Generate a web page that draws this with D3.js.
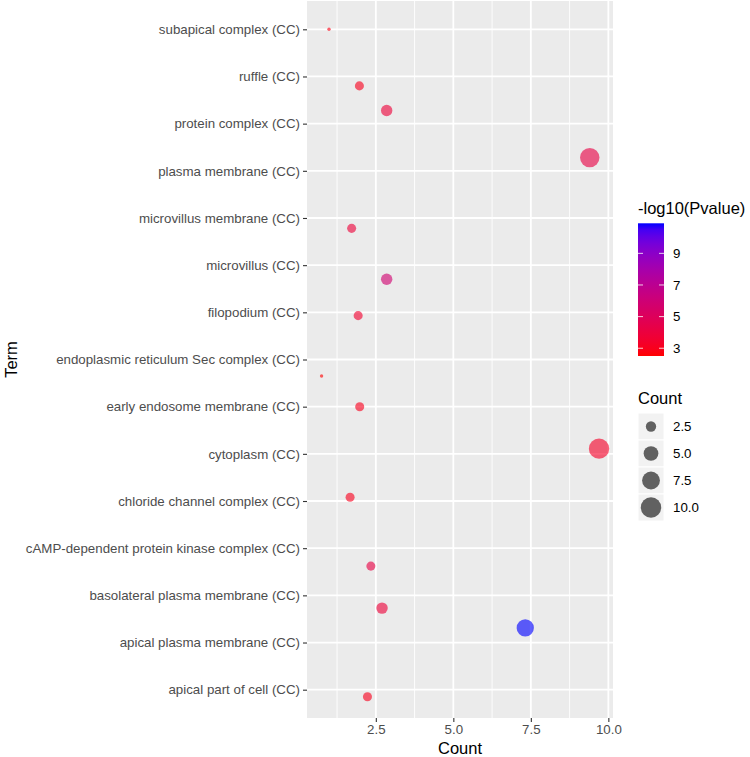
<!DOCTYPE html>
<html>
<head>
<meta charset="utf-8">
<script src="https://cdn.jsdelivr.net/npm/d3@7"></script>
<style>
  body { margin: 0; background: #fff; }
  svg { font-family: "Liberation Sans", Arial, sans-serif; display: block; }
</style>
</head>
<body>
<div id="chart"></div>
<script>
// GO terms, bottom to top (factor order)
const terms = [
    "apical part of cell (CC)",
    "apical plasma membrane (CC)",
    "basolateral plasma membrane (CC)",
    "cAMP-dependent protein kinase complex (CC)",
    "chloride channel complex (CC)",
    "cytoplasm (CC)",
    "early endosome membrane (CC)",
    "endoplasmic reticulum Sec complex (CC)",
    "filopodium (CC)",
    "microvillus (CC)",
    "microvillus membrane (CC)",
    "plasma membrane (CC)",
    "protein complex (CC)",
    "ruffle (CC)",
    "subapical complex (CC)"
];
const counts = [2, 7, 3, 2, 2, 10, 2, 1, 2, 3, 2, 9, 3, 2, 1];
// jittered positions as drawn
const countJitter = [2.23, 7.32, 2.7, 2.34, 1.67, 9.7, 1.98, 0.75, 1.93, 2.85, 1.72, 9.4, 2.85, 1.97, 0.99];
const termJitter = [-0.15, 0.31, -0.27, -0.38, 0.08, 0.11, 0.0, -0.35, -0.07, -0.3, -0.22, 0.28, 0.28, -0.2, 0.0];
const logP = [3.0, 10.9, 3.8, 4.2, 3.0, 3.3, 3.0, 2.51, 3.5, 5.8, 3.8, 4.2, 3.8, 3.0, 2.8];

const xTicks = [2.5, 5, 7.5, 10];
const xMinor = [1.25, 3.75, 6.25, 8.75];
const colorTicks = [3, 5, 7, 9];
const sizeTicks = [2.5, 5, 7.5, 10];

const data = terms.map((t, i) => ({
    term: t, idx: i, count: counts[i],
    cx: countJitter[i], cy: i + termJitter[i], p: logP[i]
}));

const W = 750, H = 757;
const panel = { left: 307, right: 613, top: 1, bottom: 718 };

const svg = d3.select("#chart").append("svg")
    .attr("width", W).attr("height", H);

const x = d3.scaleLinear().domain([0.28, 10.15]).range([panel.left, panel.right]);
const y = d3.scaleLinear().domain([-0.6, terms.length - 0.4]).range([panel.bottom, panel.top]);

const color = d3.scaleLinear()
    .domain(d3.extent(logP))
    .range(["red", "blue"])
    .interpolate(d3.interpolateLab);

const sizeNorm = d3.scaleLinear().domain(d3.extent(counts)).range([0, 1]);
const radius = d3.scaleLinear().domain([0, 1]).range([1.7, 10.2]);
const r = c => radius(Math.sqrt(sizeNorm(c)));

// panel background
svg.append("rect")
    .attr("x", panel.left).attr("y", panel.top)
    .attr("width", panel.right - panel.left).attr("height", panel.bottom - panel.top)
    .attr("fill", "#ebebeb");

const grid = svg.append("g");
grid.selectAll(".xminor").data(xMinor).enter().append("line")
    .attr("x1", d => x(d)).attr("x2", d => x(d))
    .attr("y1", panel.top).attr("y2", panel.bottom)
    .attr("stroke", "#fff").attr("stroke-width", 0.9);
grid.selectAll(".xmajor").data(xTicks).enter().append("line")
    .attr("x1", d => x(d)).attr("x2", d => x(d))
    .attr("y1", panel.top).attr("y2", panel.bottom)
    .attr("stroke", "#fff").attr("stroke-width", 1.8);
grid.selectAll(".ymajor").data(d3.range(terms.length)).enter().append("line")
    .attr("x1", panel.left).attr("x2", panel.right)
    .attr("y1", d => y(d)).attr("y2", d => y(d))
    .attr("stroke", "#fff").attr("stroke-width", 1.8);

// points
svg.append("g").selectAll("circle")
    .data(data).enter().append("circle")
    .attr("cx", d => x(d.cx))
    .attr("cy", d => y(d.cy))
    .attr("r", d => r(d.count))
    .attr("fill", d => color(d.p))
    .attr("fill-opacity", 0.62);

// axes
const yAxis = svg.append("g")
    .attr("transform", `translate(${panel.left},0)`)
    .call(d3.axisLeft(y).tickValues(d3.range(terms.length)).tickFormat(i => terms[i]).tickSize(4).tickPadding(3));
const xAxis = svg.append("g")
    .attr("transform", `translate(0,${panel.bottom})`)
    .call(d3.axisBottom(x).tickValues(xTicks).tickFormat(d3.format(".1f")).tickSize(4).tickPadding(3));
[xAxis, yAxis].forEach(g => {
    g.select(".domain").remove();
    g.selectAll(".tick line").attr("stroke", "#333").attr("stroke-width", 1.1);
    g.selectAll(".tick text").attr("fill", "#4d4d4d").style("font-size", "13.3px");
});

svg.append("text")
    .attr("x", (panel.left + panel.right) / 2).attr("y", 754)
    .attr("text-anchor", "middle").style("font-size", "16.5px").attr("fill", "#000")
    .text("Count");
svg.append("text")
    .attr("transform", `translate(17,${(panel.top + panel.bottom) / 2}) rotate(-90)`)
    .attr("text-anchor", "middle").style("font-size", "16.5px").attr("fill", "#000")
    .text("Term");

// colour legend
const lg = svg.append("g").attr("transform", "translate(638,0)");
lg.append("text").attr("x", 0).attr("y", 214)
    .style("font-size", "16.5px").text("-log10(Pvalue)");

const barTop = 223.3, barBottom = 356, barW = 26;
const cy = d3.scaleLinear().domain(d3.extent(logP)).range([barBottom, barTop]);
const grad = svg.append("defs").append("linearGradient")
    .attr("id", "cbar").attr("x1", 0).attr("y1", 1).attr("x2", 0).attr("y2", 0);
d3.range(0, 1.0001, 0.05).forEach(t => {
    const v = color.domain()[0] + t * (color.domain()[1] - color.domain()[0]);
    grad.append("stop").attr("offset", t).attr("stop-color", color(v));
});
lg.append("rect").attr("x", 0).attr("y", barTop)
    .attr("width", barW).attr("height", barBottom - barTop)
    .attr("fill", "url(#cbar)");
colorTicks.forEach(v => {
    lg.append("line").attr("x1", 0).attr("x2", 5).attr("y1", cy(v)).attr("y2", cy(v))
        .attr("stroke", "#fff").attr("stroke-opacity", 0.8);
    lg.append("line").attr("x1", barW - 5).attr("x2", barW).attr("y1", cy(v)).attr("y2", cy(v))
        .attr("stroke", "#fff").attr("stroke-opacity", 0.8);
    lg.append("text").attr("x", barW + 9).attr("y", cy(v)).attr("dy", "0.35em")
        .style("font-size", "13.3px").attr("fill", "#000").text(v);
});

// size legend
lg.append("text").attr("x", 0).attr("y", 404)
    .style("font-size", "16.5px").text("Count");
const keyH = 27, keyTop = 413;
sizeTicks.forEach((v, i) => {
    const ky = keyTop + i * keyH;
    lg.append("rect").attr("x", 0).attr("y", ky).attr("width", barW).attr("height", keyH)
        .attr("fill", "#f2f2f2").attr("stroke", "#fff").attr("stroke-width", 1);
    lg.append("circle").attr("cx", barW / 2).attr("cy", ky + keyH / 2).attr("r", r(v))
        .attr("fill", "#000").attr("fill-opacity", 0.6);
    lg.append("text").attr("x", barW + 9).attr("y", ky + keyH / 2).attr("dy", "0.35em")
        .style("font-size", "13.3px").attr("fill", "#000").text(d3.format(".1f")(v));
});
</script>
</body>
</html>
